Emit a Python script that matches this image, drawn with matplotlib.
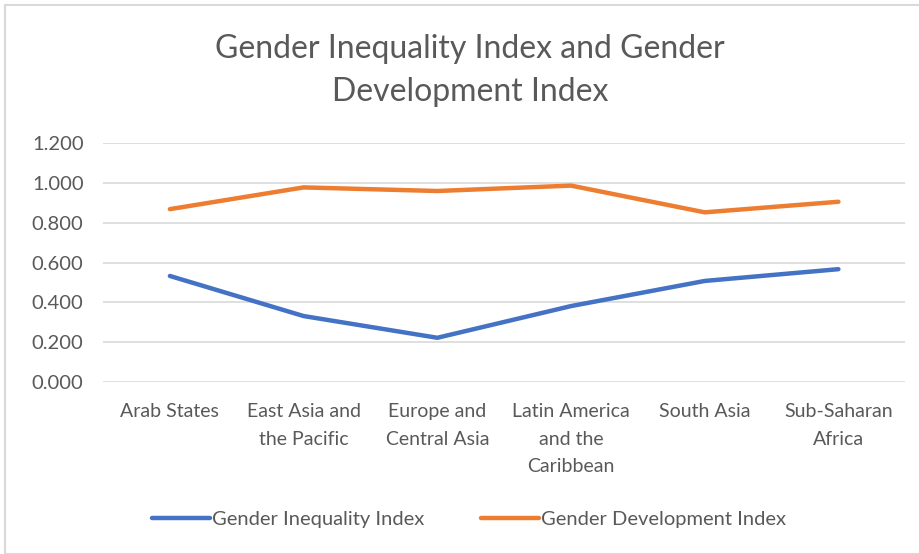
import matplotlib.pyplot as plt
from matplotlib.patches import Rectangle

plt.rcParams['font.family'] = ['Lato', 'DejaVu Sans']

regions = ['Arab States', 'East Asia and\nthe Pacific', 'Europe and\nCentral Asia',
           'Latin America\nand the\nCaribbean', 'South Asia', 'Sub-Saharan\nAfrica']
gii = [0.533, 0.332, 0.223, 0.382, 0.508, 0.567]
gdi = [0.868, 0.977, 0.959, 0.986, 0.852, 0.905]
yticks = [0.0, 0.2, 0.4, 0.6, 0.8, 1.0, 1.2]

txt = '#595959'

fig = plt.figure(figsize=(9.2, 5.54), dpi=100)
ax = fig.add_axes([0.112, 0.310, 0.872, 0.432])

x = range(len(regions))
ax.plot(x, gii, color='#4472C4', lw=3.2, solid_capstyle='round', label='Gender Inequality Index')
ax.plot(x, gdi, color='#ED7D31', lw=3.2, solid_capstyle='round', label='Gender Development Index')

ax.set_xlim(-0.5, len(regions) - 0.5)
ax.set_ylim(0, 1.2)
ax.set_yticks(yticks)
ax.set_yticklabels(['%.3f' % v for v in yticks])
ax.set_xticks(list(x))
ax.set_xticklabels(regions, linespacing=1.75)
ax.tick_params(length=0, colors=txt, labelsize=14)
ax.tick_params(axis='x', pad=15)
ax.tick_params(axis='y', labelsize=14.5, pad=14)
ax.grid(axis='y', color='#D9D9D9', lw=1.2)
ax.set_axisbelow(True)
for s in ax.spines.values():
    s.set_visible(False)

fig.text(0.511, 0.873, 'Gender Inequality Index and Gender\nDevelopment Index',
         ha='center', va='center', fontsize=23, color=txt, linespacing=1.55)

leg = fig.legend(loc='center', bbox_to_anchor=(0.51, 0.063), ncol=2, frameon=False,
                 fontsize=14.5, handlelength=2.9, handletextpad=0.1, columnspacing=2.8)
for t in leg.get_texts():
    t.set_color(txt)

fig.patches.append(Rectangle((5 / 920, 0), 1, 1 - 5 / 554, transform=fig.transFigure,
                             fill=False, edgecolor='#D9D9D9', lw=1.5))

fig.savefig('out.png', dpi=100)
